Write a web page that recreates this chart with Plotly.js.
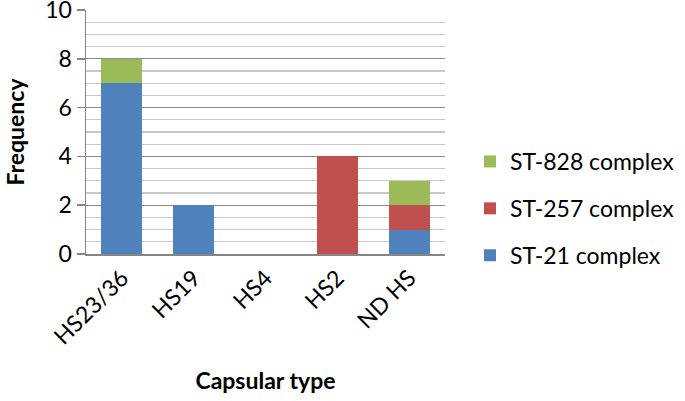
<!DOCTYPE html>
<html>
<head>
<meta charset="utf-8">
<script src="https://cdn.plot.ly/plotly-3.0.1.min.js"></script>
<style>html,body{margin:0;padding:0;background:#fff;}#chart{width:685px;height:401px;}</style>
</head>
<body>
<div id="chart"></div>
<script>
const categories = ["HS23/36", "HS19", "HS4", "HS2", "ND HS"];
const st21 = [7, 2, 0, 0, 1];
const st257 = [0, 0, 0, 4, 1];
const st828 = [1, 0, 0, 0, 1];
const seriesNames = ["ST-21 complex", "ST-257 complex", "ST-828 complex"];
const colors = ["#4F81BD", "#C0504D", "#9BBB59"];
const yTicks = [0, 2, 4, 6, 8, 10];

const FONT = "Lato, 'Open Sans', sans-serif";
const data = [st21, st257, st828].map((vals, i) => ({
  type: "bar",
  x: categories,
  y: vals,
  name: seriesNames[i],
  legendgroup: "g" + i,
  legendrank: 3 - i,
  marker: {color: colors[i], line: {width: 0}},
  hoverinfo: "skip"
}));

const layout = {
  width: 685, height: 401,
  margin: {l: 85.5, r: 239.5, t: 10, b: 147},
  paper_bgcolor: "#fff", plot_bgcolor: "#fff",
  barmode: "stack",
  bargap: 0.43,
  font: {family: FONT, color: "#000", size: 22},
  xaxis: {
    type: "category",
    tickangle: -45,
    tickfont: {size: 23, family: FONT},
    showline: true, linecolor: "#868686", linewidth: 1.5,
    ticks: "", showgrid: false,
    title: {text: "<b>Capsular type</b>", font: {size: 23, family: FONT}, standoff: 24}
  },
  yaxis: {
    range: [0, 10],
    tickvals: yTicks,
    ticklabeloverflow: "allow",
    tickfont: {size: 23, family: FONT},
    showline: true, linecolor: "#868686", linewidth: 1.5,
    ticks: "outside", ticklen: 8, tickcolor: "#868686", tickwidth: 1.5,
    showgrid: true, gridcolor: "#8c8c8c", gridwidth: 1.3,
    minor: {dtick: 0.5, showgrid: true, gridcolor: "#c8c8c8", gridwidth: 1.3, ticks: ""},
    zeroline: false,
    title: {text: "<b>Frequency</b>", font: {size: 23, family: FONT}, standoff: 14}
  },
  legend: {
    traceorder: "grouped",
    tracegroupgap: 14,
    font: {size: 23, family: FONT},
    xref: "container", yref: "container",
    x: 470/685, y: 1 - 140/401,
    xanchor: "left", yanchor: "top",
    bgcolor: "rgba(0,0,0,0)"
  },
  showlegend: true
};

Plotly.newPlot("chart", data, layout, {staticPlot: true, displayModeBar: false});
</script>
</body>
</html>
